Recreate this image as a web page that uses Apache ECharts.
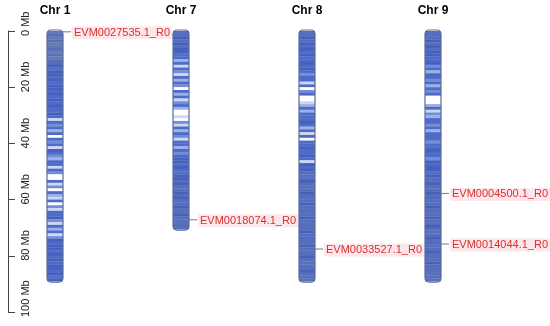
<!DOCTYPE html>
<html>
<head>
<meta charset="utf-8">
<script src="https://cdn.jsdelivr.net/npm/echarts@6/dist/echarts.min.js"></script>
<style>
html, body { margin: 0; padding: 0; background: #fff; }
#main { width: 550px; height: 326px; }
</style>
</head>
<body>
<div id="main"></div>
<script>
// chromosome names and lengths (Mb)
var chrNames = ['Chr 1', 'Chr 7', 'Chr 8', 'Chr 9'];
var chrLength = [89, 70.5, 89, 89];

// gene density per 1 Mb bin (0 = sparse, 9 = dense)
var chr1Density = [2,3,2,3,2,2,3,2,3,2,3,
	3,4,3,4,4,3,4,5,4,4,5,4,5,4,5,4,5,5,4,5,
	8,5,6,5,7,5,9,5,6,5,8,4,5,6,7,5,5,8,5,6,
	9,9,5,8,6,9,5,7,8,5,9,6,8,
	5,5,4,6,8,5,7,5,8,6,
	4,5,4,4,5,4,3,4,5,4,4,5,4,3,4];
var chr7Density = [3,3,4,3,4,3,4,4,3,
	5,7,5,8,5,6,8,5,7,5,6,9,5,7,5,8,6,5,7,
	9,9,8,9,6,8,
	5,7,5,6,8,5,5,7,5,6,5,4,
	4,3,4,5,3,4,4,3,4,3,3,4,3,4,3,3,4,3,3,4,3,3,3,3,3];
var chr8Density = [3,3,4,3,4,5,4,5,4,5,5,4,5,4,5,6,5,5,
	8,5,9,6,5,9,9,8,7,5,7,5,
	5,5,4,5,7,5,8,5,9,5,5,4,5,5,4,5,8,4,5,4,
	3,3,3,4,3,3,3,4,3,3,3,4,3,3,3,3,4,3,3,3,3,4,3,5,3,3,4,3,3,3,4,3,3,3,3,4,3,3,3];
var chr9Density = [3,3,3,4,3,4,3,4,4,5,
	5,4,6,5,7,5,5,6,5,7,5,6,5,
	9,9,9,7,5,8,6,7,
	5,5,6,5,7,5,5,5,6,5,5,4,5,5,6,4,5,4,
	4,3,4,3,3,4,3,3,4,3,5,3,3,4,3,3,3,4,3,3,4,3,3,3,4,3,5,3,3,4,3,3,3,4,3,3,3,3,3,3];

// marked genes: chromosome index, position (Mb), name
var geneChr = [0, 1, 2, 3, 3];
var genePos = [0.3, 67.2, 77.6, 57.8, 75.8];
var geneName = ['EVM0027535.1_R0', 'EVM0018074.1_R0', 'EVM0033527.1_R0', 'EVM0004500.1_R0', 'EVM0014044.1_R0'];

var barW = 16;

function bins(list) { // 把所有染色体的密度转成 [chr, start, end, value]
	var out = [];
	for (var c = 0; c < list.length; c++) {
		for (var i = 0; i < list[c].length; i++) {
			out.push([c, i, Math.min(i + 1, chrLength[c]), list[c][i]]);
		}
	}
	return out;
}

var binData = bins([chr1Density, chr7Density, chr8Density, chr9Density]);
var outlineData = [];
for (var i = 0; i < chrLength.length; i++) {
	outlineData.push([i, chrLength[i]]);
}
var geneData = [];
for (var i = 0; i < geneChr.length; i++) {
	geneData.push([geneChr[i], genePos[i], geneName[i]]);
}

var myChart = echarts.init(document.getElementById('main'));

var option = {
	animation: false,
	grid: {
		left: -8,
		width: 504,
		top: 31,
		bottom: 14,
		outerBoundsMode: 'none'
	},
	xAxis: {
		type: 'category',
		position: 'top',
		data: chrNames,
		axisLine: { show: false },
		axisTick: { show: false },
		axisLabel: {
			margin: 14,
			color: '#000',
			fontWeight: 'bold',
			fontSize: 12,
			fontFamily: 'Liberation Sans, Arial, sans-serif'
		}
	},
	yAxis: {
		type: 'value',
		inverse: true,
		min: 0,
		max: 100,
		interval: 20,
		offset: -16,
		splitLine: { show: false },
		axisLine: { show: true, lineStyle: { color: '#444', width: 1 } },
		axisTick: { show: true, inside: true, length: 7, lineStyle: { color: '#444' } },
		axisLabel: {
			inside: true,
			rotate: 90,
			margin: 12,
			align: 'left',
			padding: [0, 0, 0, -5],
			color: '#222',
			fontSize: 11,
			fontFamily: 'Liberation Sans, Arial, sans-serif',
			formatter: function (v) { return v + ' Mb'; }
		}
	},
	visualMap: {
		show: false,
		seriesIndex: 0,
		dimension: 3,
		min: 0,
		max: 9,
		inRange: {
			color: ['#7386b8', '#6479b6', '#3c5ac2', '#8ea6e2', '#ffffff']
		}
	},
	series: [
		{ // 密度条带
			type: 'custom',
			data: binData,
			encode: { x: 0, y: [1, 2] },
			renderItem: function (params, api) {
				var p0 = api.coord([api.value(0), api.value(1)]);
				var p1 = api.coord([api.value(0), api.value(2)]);
				return {
					type: 'rect',
					shape: { x: p0[0] - barW / 2, y: p0[1], width: barW, height: p1[1] - p0[1] + 0.3 },
					style: { fill: api.visual('color') }
				};
			}
		},
		{ // 染色体外框
			type: 'custom',
			data: outlineData,
			encode: { x: 0, y: 1 },
			renderItem: function (params, api) {
				var p0 = api.coord([api.value(0), 0]);
				var p1 = api.coord([api.value(0), api.value(1)]);
				return {
					type: 'rect',
					shape: { x: p0[0] - barW / 2, y: p0[1] - 1, width: barW, height: p1[1] - p0[1] + 2, r: 4 },
					style: { fill: 'none', stroke: '#5b6b99', lineWidth: 1.2 }
				};
			}
		},
		{ // 基因标注
			type: 'custom',
			data: geneData,
			encode: { x: 0, y: 1 },
			renderItem: function (params, api) {
				var p = api.coord([api.value(0), api.value(1)]);
				var name = geneData[params.dataIndex][2];
				return {
					type: 'group',
					children: [{
						type: 'line',
						shape: { x1: p[0] + barW / 2, y1: p[1], x2: p[0] + barW / 2 + 8, y2: p[1] },
						style: { stroke: '#777', lineWidth: 1 }
					}, {
						type: 'text',
						x: p[0] + barW / 2 + 9,
						y: p[1] + 1,
						style: {
							text: name,
							fill: '#d8322c',
							font: '11px Liberation Sans, Arial, sans-serif',
							verticalAlign: 'middle',
							align: 'left',
							backgroundColor: '#fde6ec',
							padding: [1, 2, 1, 2]
						}
					}]
				};
			}
		}
	]
};

myChart.setOption(option);
</script>
</body>
</html>
